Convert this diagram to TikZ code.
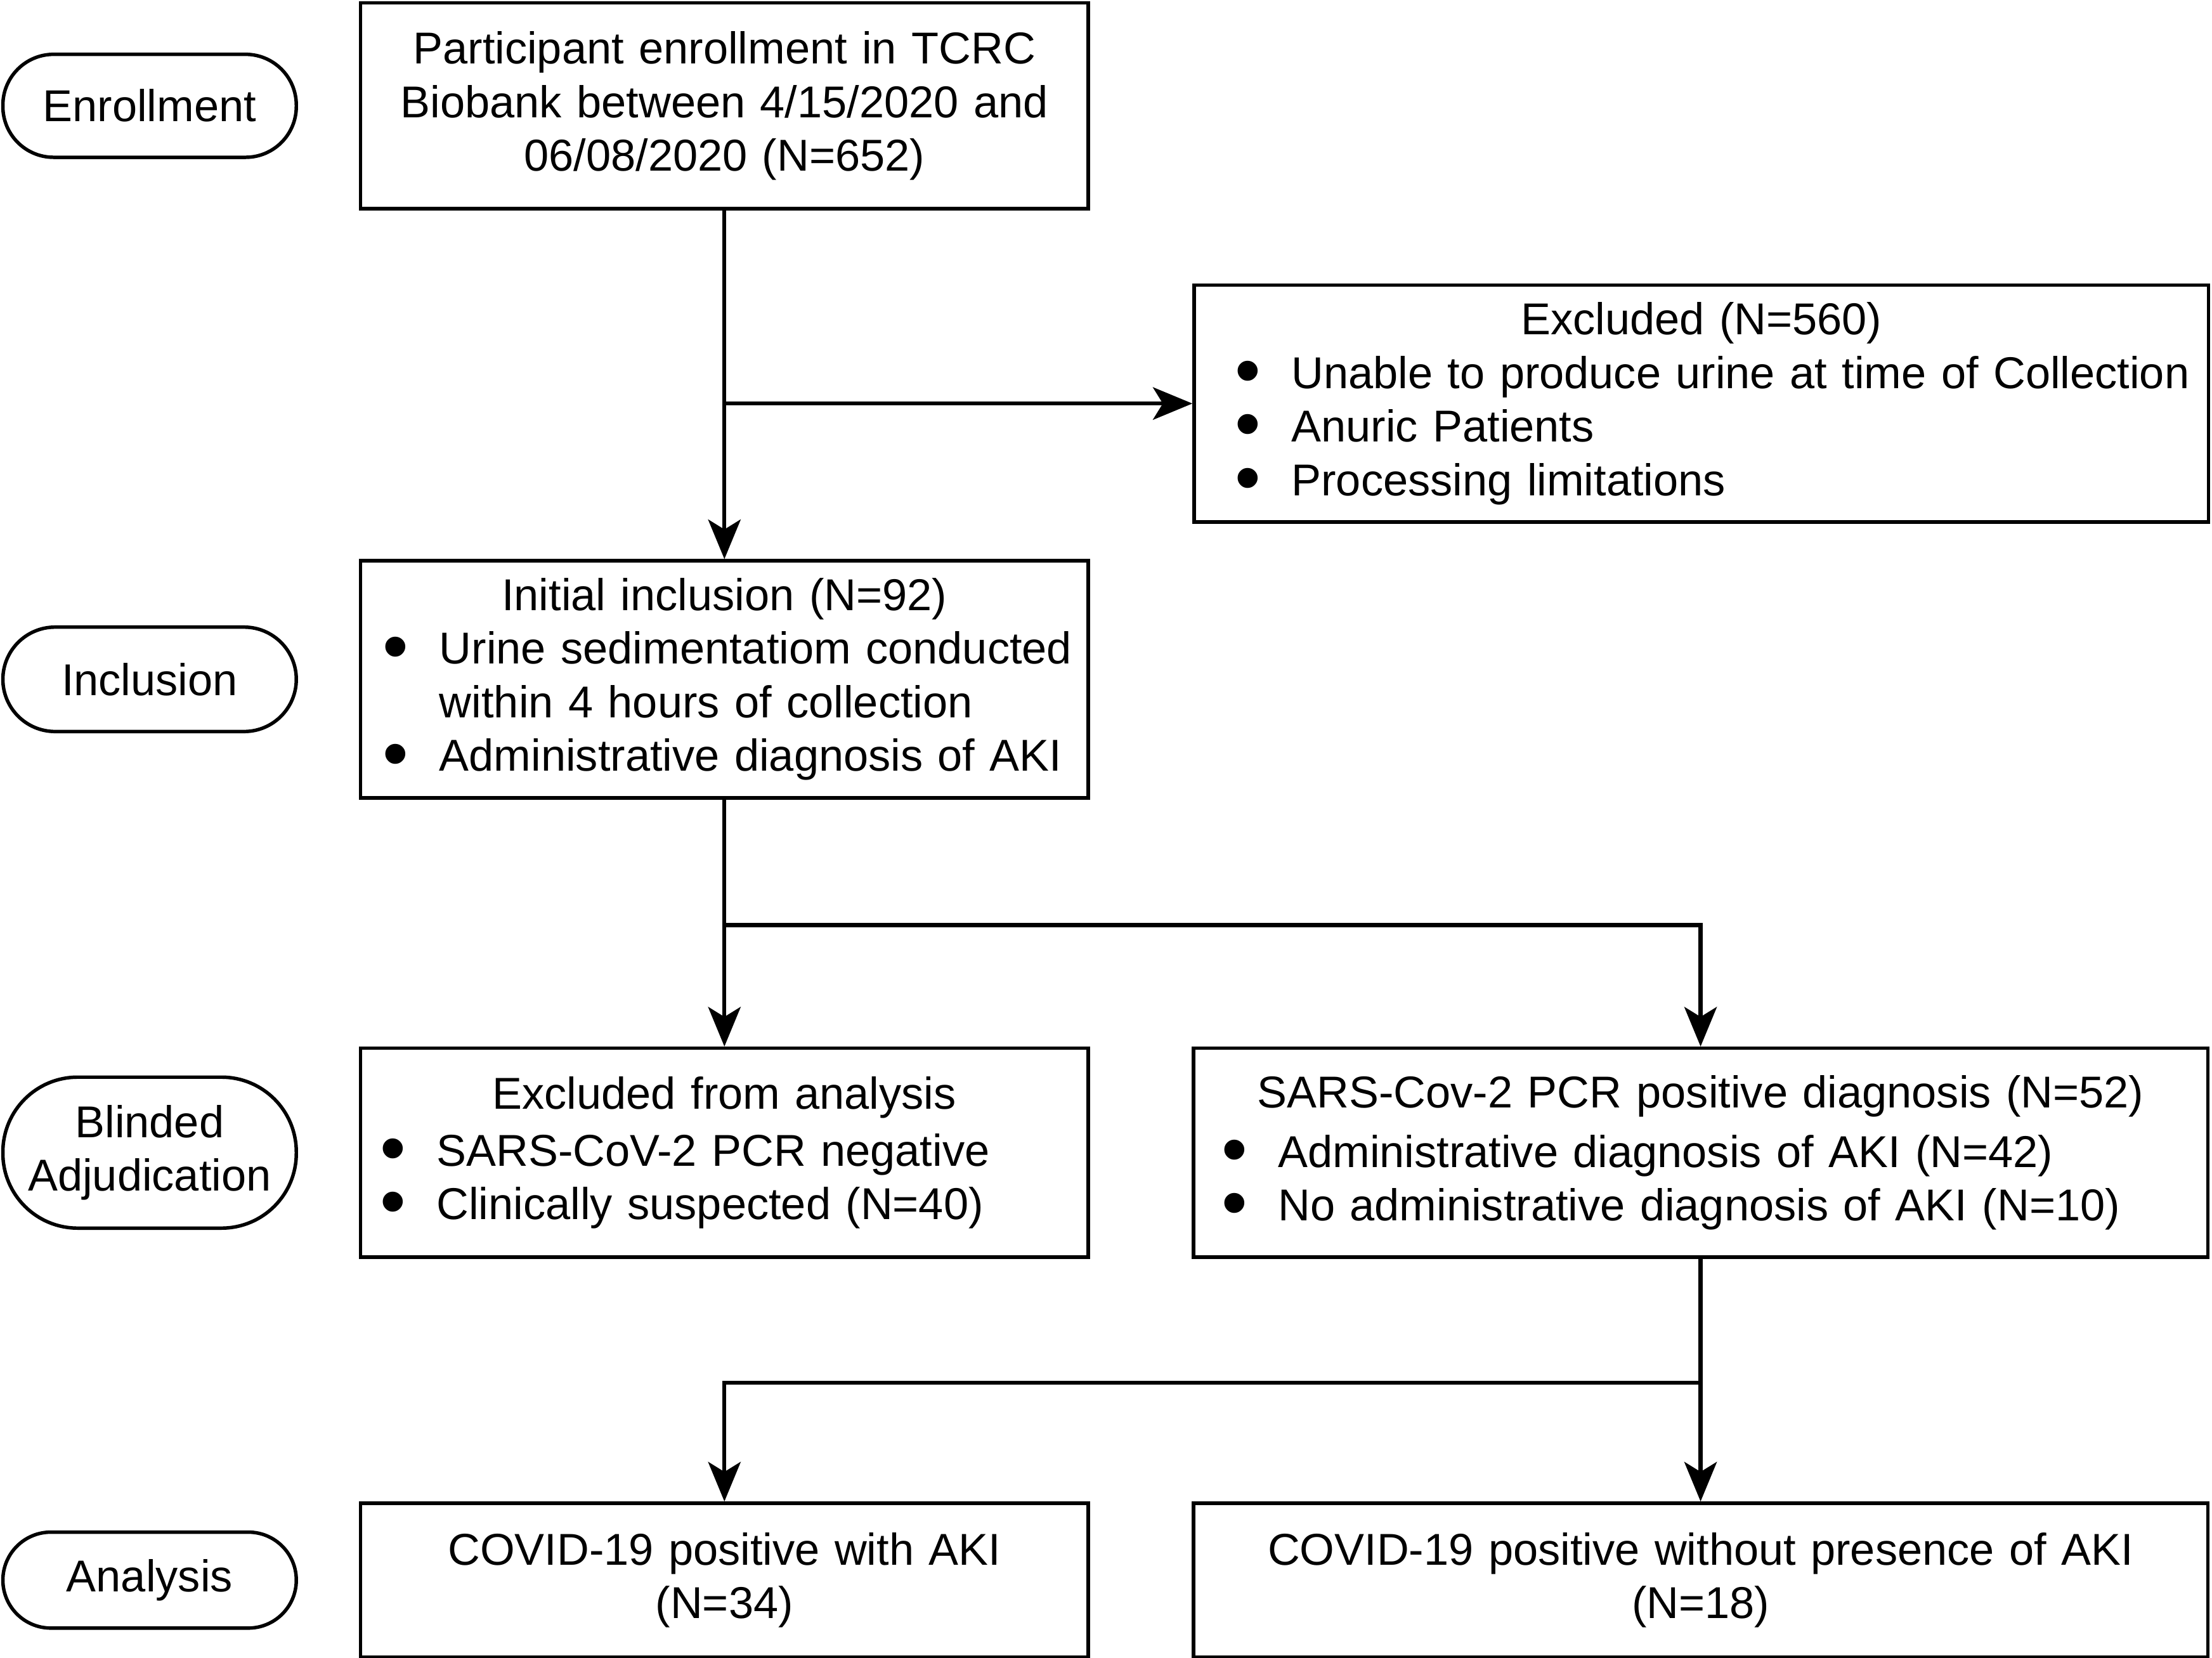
\documentclass[tikz,border=0pt]{standalone}
\usepackage{fontspec}
\setmainfont{Liberation Sans}
\usetikzlibrary{positioning, arrows.meta}
\newlength{\bulletpad}
\newcommand{\bitem}{\par\hangindent=\dimexpr\bulletpad+4mm\relax\hangafter=1\noindent
    \hspace*{\bulletpad}\makebox[4mm][l]{\raisebox{-0.16em}{\scalebox{1.65}{•}}}}

\begin{document}
\begin{tikzpicture}[
    every node/.style={font=\fontsize{9}{10.8}\selectfont},
    boxstyle/.style={draw, line width=0.7pt, inner ysep=0pt, inner xsep=0.5mm},
    narrowbox/.style={boxstyle, text width=5.06cm},
    widebox/.style={boxstyle, text width=7.09cm},
    bulletpad/.style={execute at begin node={\setlength{\bulletpad}{#1}}},
    stagestyle/.style={draw, line width=0.7pt, rectangle, minimum width=2.08cm, align=center, inner xsep=1mm},
    arrowstyle/.style={-{Stealth[length=2.8mm, width=2.3mm, inset=0.7mm]}, line width=0.8pt}
]
\useasboundingbox (0,0) rectangle (15.68,-11.75);

% Enrollment
\node[narrowbox, align=center, minimum height=1.46cm] (enroll) at (5.135,-0.75)
    {Participant enrollment in TCRC\\Biobank between 4/15/2020 and\\06/08/2020 (N=652)};
\node[widebox, bulletpad=2.4mm, minimum height=1.68cm] (excl) at (12.06,-2.86)
    {\centering Excluded (N=560)\par\raggedright
    \bitem Unable to produce urine at time of Collection
    \bitem Anuric Patients
    \bitem Processing limitations\par};

% Inclusion
\node[narrowbox, bulletpad=1.1mm, minimum height=1.68cm, below=2.47cm of enroll] (incl)
    {\centering Initial inclusion (N=92)\par\raggedright
    \bitem Urine sedimentatiom conducted\newline within 4 hours of collection
    \bitem Administrative diagnosis of AKI\par};

% Blinded adjudication
\node[narrowbox, bulletpad=0.9mm, minimum height=1.48cm, below=1.75cm of incl] (exanal)
    {\centering Excluded from analysis\par\vspace{0.7pt}\raggedright
    \bitem SARS-CoV-2 PCR negative
    \bitem Clinically suspected (N=40)\par};
\node[widebox, bulletpad=1.5mm, minimum height=1.48cm, right=0.72cm of exanal] (sars)
    {\centering SARS-Cov-2 PCR positive diagnosis (N=52)\par\vspace{1.2pt}\raggedright
    \bitem Administrative diagnosis of AKI (N=42)
    \bitem No administrative diagnosis of AKI (N=10)\par};

% Analysis
\node[narrowbox, align=center, minimum height=1.09cm, below=1.72cm of exanal] (withaki)
    {COVID-19 positive with AKI\\(N=34)};
\node[widebox, align=center, minimum height=1.09cm, right=0.72cm of withaki] (noaki)
    {COVID-19 positive without presence of AKI\\(N=18)};

% Stage labels
\node[stagestyle, minimum height=0.73cm, rounded corners=3.6mm, left=0.43cm of enroll] (stageA) {Enrollment};
\node[stagestyle, minimum height=0.74cm, rounded corners=3.7mm, left=0.43cm of incl] (stageB) {Inclusion};
\node[stagestyle, minimum height=1.07cm, rounded corners=5.3mm, left=0.43cm of exanal] (stageC) {Blinded\\Adjudication};
\node[stagestyle, minimum height=0.68cm, rounded corners=3.4mm, left=0.43cm of withaki] (stageD) {Analysis};

% Arrows
\coordinate (split1) at (enroll.south |- excl.west);
\coordinate (split2) at ([yshift=-0.89cm]incl.south);
\coordinate (split3) at ([yshift=-0.88cm]sars.south);
\draw[arrowstyle] (enroll) -- (incl);
\draw[arrowstyle] (split1) -- (excl);
\draw[arrowstyle] (incl) -- (exanal);
\draw[arrowstyle] (split2) -| (sars);
\draw[arrowstyle] (sars) -- (noaki);
\draw[arrowstyle] (split3) -| (withaki);

\end{tikzpicture}
\end{document}
